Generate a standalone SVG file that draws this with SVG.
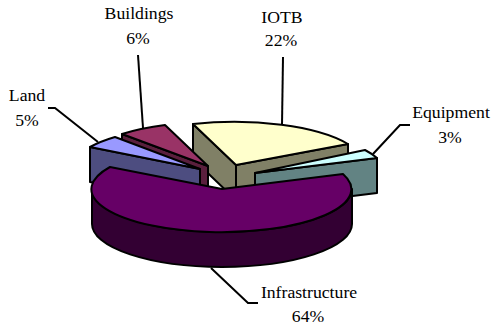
<svg xmlns="http://www.w3.org/2000/svg" width="492" height="325" viewBox="0 0 492 325">
<style>
.s{stroke:#000;stroke-width:2;stroke-linejoin:round}
.l{fill:none;stroke:#000;stroke-width:2}
.t{font-size:17.7px;fill:#000;text-anchor:middle}
</style>
<rect width="492" height="325" fill="#fff"/>
<g id="iotb">
<path class="s" fill="#808066" d="M193,124 L236,165 L236,200 L193,159 Z"/>
<path class="s" fill="#808066" d="M236,165 L348,144 L348,179 L236,200 Z"/>
<path class="s" fill="#FFFFCC" d="M236,165 L193,124 A130 43 0 0 1 348,144 Z"/>
</g>
<g id="buildings">
<path class="s" fill="#5a1f3d" d="M122,134 L208,166 L208,201 L122,169 Z"/>
<path class="s" fill="#993366" d="M208,166 L122,134 A130 43 0 0 1 165,125 Z"/>
</g>
<g id="land">
<path class="s" fill="#4D4D80" d="M90,147 L200,169 L200,204 L90,182 Z"/>
<path class="s" fill="#9999FF" d="M200,169 L90,147 A130 43 0 0 1 115,137 Z"/>
</g>
<g id="equipment">
<path class="s" fill="#628383" d="M255,173 L377,158 L377,193 L255,208 Z"/>
<path class="s" fill="#CCFFFF" d="M255,173 L365,150 A130 43 0 0 1 377,158 Z"/>
</g>
<g id="infrastructure">
<path class="s" fill="#330033" d="M92,189 A130 43 0 0 0 352,189 L352,224 A130 43 0 0 1 92,224 Z"/>
<path class="s" fill="#660066" d="M222,189 L110,167 A130 43 0 1 0 343,174 Z"/>
</g>
<g id="connectors">
<polyline class="l" points="138,55 143,128"/>
<polyline class="l" points="283,57 282,125"/>
<polyline class="l" points="48,108 55,108 98,142"/>
<polyline class="l" points="410,125 400,125 373,154"/>
<polyline class="l" points="211,268 248,303 258,303"/>
</g>
<g id="labels" font-family="'Liberation Serif', 'Times New Roman', 'DejaVu Serif', serif">
<text class="t" x="139" y="19">Buildings</text>
<text class="t" x="138" y="44">6%</text>
<text class="t" x="282" y="23">IOTB</text>
<text class="t" x="281" y="46">22%</text>
<text class="t" x="27" y="101">Land</text>
<text class="t" x="27" y="126">5%</text>
<text class="t" x="451" y="118">Equipment</text>
<text class="t" x="450" y="143">3%</text>
<text class="t" x="309" y="298">Infrastructure</text>
<text class="t" x="308" y="322">64%</text>
</g>
</svg>
